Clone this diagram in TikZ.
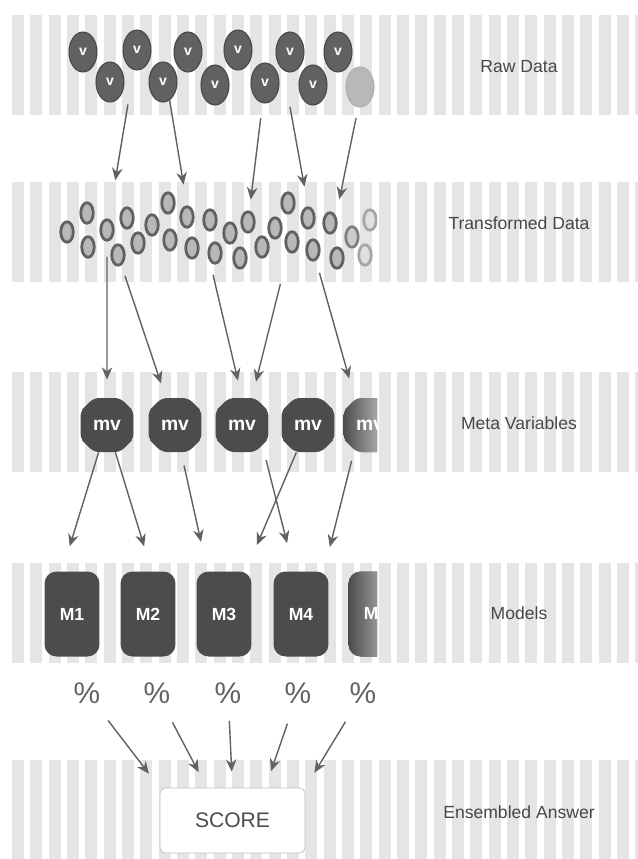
\documentclass[tikz,border=0pt]{standalone}
\usepackage{fontspec}
\setmainfont{Liberation Sans}
\usetikzlibrary{
    arrows.meta,
    shapes.geometric,
    shapes.misc,
    positioning
  }

\tikzset{
  band/.style={draw=black!10, line width=2cm, dash pattern=on 0.24cm off 0.1267cm},
  rawdot/.style={ellipse, fill=black!62, draw=black!72, line width=0.6pt, minimum width=0.56cm, minimum height=0.8cm, inner sep=0pt, text=white, font=\footnotesize\bfseries},
  tdot/.style={ellipse, fill=black!28, draw=black!62, line width=1.6pt, minimum width=0.25cm, minimum height=0.41cm, inner sep=0pt},
  fadedot/.style={tdot, fill=black!12, draw=black!35},
  mvbox/.style={chamfered rectangle, chamfered rectangle xsep=0.16cm, chamfered rectangle ysep=0.16cm, rounded corners=3pt, fill=black!70, minimum width=1.06cm, minimum height=1.08cm, inner sep=0pt, text=white, font=\fontsize{11}{13}\selectfont\bfseries},
  modelbox/.style={rectangle, rounded corners=0.24cm, fill=black!70, minimum width=1.1cm, minimum height=1.7cm, inner sep=0pt, text=white, font=\bfseries},
  pct/.style={text=black!62, font=\fontsize{17}{20}\selectfont, inner sep=0pt},
  scorebox/.style={rectangle, draw=black!25, line width=0.4pt, fill=white, rounded corners=3pt, minimum width=2.9cm, minimum height=1.3cm, text=black!70, font=\fontsize{12}{14}\selectfont},
  lab/.style={text=black!72, font=\fontsize{10}{12}\selectfont},
  flow/.style={draw=black!62, line width=0.8pt, -{Stealth[length=7pt,width=6pt]}}
}

\begin{document}
\begin{tikzpicture}[x=0.02cm, y=-0.02cm]
  \useasboundingbox (0,0) rectangle (638,859);
% striped rows
  \draw[band] (12,65) -- (638,65);
  \draw[band] (12,232) -- (638,232);
  \draw[band] (12,422) -- (638,422);
  \draw[band] (12,613) -- (638,613);
  \draw[band] (12,810) -- (638,810);
%
  \node[rawdot] (r1) at (83,52) {v};
  \node[rawdot] (r2) at (137,50) {v};
  \node[rawdot] (r3) at (188,52) {v};
  \node[rawdot] (r4) at (238,50) {v};
  \node[rawdot] (r5) at (290,52) {v};
  \node[rawdot] (r6) at (338,52) {v};
  \node[rawdot] (b1) at (110,82) {v};
  \node[rawdot] (b2) at (163,82) {v};
  \node[rawdot] (b3) at (215,85) {v};
  \node[rawdot] (b4) at (265,83) {v};
  \node[rawdot] (b5) at (313,85) {v};
  \node[rawdot, fill=black!28, draw=black!32] (b6) at (360,87) {};
%
  \node[tdot] (t1) at (67,232) {};
  \node[tdot] (t2) at (87,213) {};
  \node[tdot] (t3) at (88,247) {};
  \node[tdot] (t4) at (107,230) {};
  \node[tdot] (t5) at (118,255) {};
  \node[tdot] (t6) at (127,218) {};
  \node[tdot] (t7) at (138,243) {};
  \node[tdot] (t8) at (152,225) {};
  \node[tdot] (t9) at (168,203) {};
  \node[tdot] (t10) at (170,240) {};
  \node[tdot] (t11) at (187,217) {};
  \node[tdot] (t12) at (192,248) {};
  \node[tdot] (t13) at (210,220) {};
  \node[tdot] (t14) at (215,253) {};
  \node[tdot] (t15) at (230,233) {};
  \node[tdot] (t16) at (240,258) {};
  \node[tdot] (t17) at (248,222) {};
  \node[tdot] (t18) at (262,247) {};
  \node[tdot] (t19) at (275,228) {};
  \node[tdot] (t20) at (288,203) {};
  \node[tdot] (t21) at (292,242) {};
  \node[tdot] (t22) at (308,218) {};
  \node[tdot] (t23) at (313,250) {};
  \node[tdot] (t24) at (330,223) {};
  \node[tdot] (t25) at (337,258) {};
  \node[tdot, fill=black!20, draw=black!50] (t26) at (352,237) {};
  \node[fadedot] (t27) at (365,255) {};
%
  \node[mvbox] (mv1) at (107,425) {mv};
  \node[mvbox] (mv2) at (175,425) {mv};
  \node[mvbox] (mv3) at (242,425) {mv};
  \node[mvbox] (mv4) at (308,425) {mv};
%
  \node[modelbox] (M1) at (72,614) {M1};
  \node[modelbox] (M2) at (148,614) {M2};
  \node[modelbox] (M3) at (224,614) {M3};
  \node[modelbox] (M4) at (301,614) {M4};
% right edge of the figure is cut off
  \begin{scope}
    \clip (0,0) rectangle (377,859);
    \node[fadedot] (t28) at (370,220) {};
    \node[mvbox, left color=black!70, right color=black!15] (mv5) at (370,425) {mv};
    \node[modelbox, left color=black!70, right color=black!15] (M5) at (376,614) {M5};
  \end{scope}
%
  \node[pct] (p1) at (87,693) {\%};
  \node[pct] (p2) at (157,693) {\%};
  \node[pct] (p3) at (228,693) {\%};
  \node[pct] (p4) at (298,693) {\%};
  \node[pct] (p5) at (363,693) {\%};
  \node[scorebox] (score) at (232.5,820.5) {SCORE};
%
  \node[lab] (lraw) at (519,67) {Raw Data};
  \node[lab] (ltrans) at (519,223) {Transformed Data};
  \node[lab] (lmeta) at (519,423) {Meta Variables};
  \node[lab] (lmod) at (519,613) {Models};
  \node[lab] (lens) at (519,812) {Ensembled Answer};
%
  \draw[flow, shorten <=0.7cm, shorten >=0.78cm] (r2) -- (t4);
  \draw[flow, shorten >=0.42cm] (b2.-70) -- (t11.north);
  \draw[flow, shorten <=0.3cm, shorten >=0.22cm] (b4) -- (t17);
  \draw[flow, shorten <=0.75cm, shorten >=0.4cm] (r5.-110) -- (t22.north);
  \draw[flow, shorten <=0.22cm, shorten >=0.34cm] (b6.-95) -- (t24.50);
%
  \draw[flow, shorten <=0.3cm, shorten >=0.36cm] (t4) -- (mv1);
  \draw[flow, shorten <=0.22cm, shorten >=0.3cm] (t5) -- (mv2);
  \draw[flow, shorten <=0.27cm, shorten >=0.35cm] (t14.-120) -- (mv3.north);
  \draw[flow, shorten <=0.65cm, shorten >=0.33cm] (t21.-110) -- (mv3.70);
  \draw[flow, shorten <=0.25cm, shorten >=0.43cm] (t23) -- (mv5.120);
%
  \draw[flow, shorten >=0.52cm] (mv1) -- (M1.103);
  \draw[flow, shorten >=0.52cm] (mv1) -- (M2.85);
  \draw[flow, shorten <=0.27cm, shorten >=0.6cm] (mv2) -- (M3.111);
  \draw[flow, shorten >=0.57cm] (mv4) -- (M3.63);
  \draw[flow, shorten <=0.3cm, shorten >=0.58cm] (mv3.-45) -- (M4.99);
  \draw[flow, shorten <=0.22cm, shorten >=0.5cm] (mv5.-122) -- (M4.62);
%
  \draw[flow, shorten <=0.42cm, shorten >=0.35cm] (p1) -- (score.north west);
  \draw[flow, shorten <=0.42cm, shorten >=0.35cm] (p2) -- (score.128);
  \draw[flow, shorten <=0.34cm, shorten >=0.32cm] (p3) -- (score.north);
  \draw[flow, shorten <=0.42cm, shorten >=0.35cm] (p4) -- (score.45);
  \draw[flow, shorten <=0.42cm, shorten >=0.35cm] (p5) -- (score.north east);
\end{tikzpicture}
\end{document}
